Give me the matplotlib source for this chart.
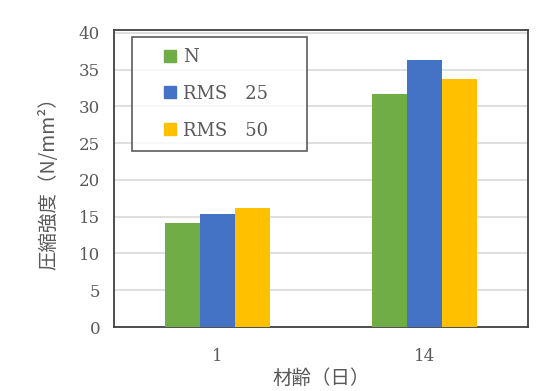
import numpy as np
import matplotlib
matplotlib.use('Agg')
import matplotlib.pyplot as plt
from matplotlib.lines import Line2D

# 材齢ごとの圧縮強度
ages = ['1', '14']
series = ['N', 'RMS\u300025', 'RMS\u300050']
val_n = [14.1, 31.7]
val_rms25 = [15.4, 36.3]
val_rms50 = [16.2, 33.7]
colors = ['#70AD47', '#4472C4', '#FFC000']

jp = ['Noto Sans CJK JP', 'DejaVu Sans']
num = ['DejaVu Serif']

fig = plt.figure(figsize=(5.39, 3.91), dpi=100)
ax = fig.add_axes([114/539, 1-327/391, 414/539, 297/391])

x = np.arange(len(ages))
w = 0.168
for i, (vals, c) in enumerate(zip([val_n, val_rms25, val_rms50], colors)):
    ax.bar(x + (i-1)*w, vals, w, color=c, zorder=3)

ax.set_xlim(-0.5, 1.5)
ax.set_ylim(0, 40.4)
ax.set_yticks(np.arange(0, 41, 5))
ax.set_xticks(x)
ax.set_xticklabels(ages)
ax.grid(axis='y', color='#d9d9d9', linewidth=1.2, zorder=0)
ax.tick_params(length=0, labelsize=12, colors='#595959', pad=10)
ax.tick_params(axis='x', pad=15)
for lab in ax.get_xticklabels() + ax.get_yticklabels():
    lab.set_family(num)
for s in ax.spines.values():
    s.set_color('#404040')
    s.set_linewidth(1.3)

ax.set_ylabel('圧縮強度（N/mm²）', family=jp, fontsize=14, color='#595959', labelpad=14)
ax.set_xlabel('材齢（日）', family=jp, fontsize=14, color='#595959', labelpad=2)

handles = [Line2D([], [], marker='s', linestyle='none', markersize=8,
                  markerfacecolor=c, markeredgecolor=c) for c in colors]
leg = ax.legend(handles, series, loc='upper left', mode='expand',
                bbox_to_anchor=(18/414, 1-7/297, 175/414, 0),
                frameon=True, fancybox=False, borderpad=0.6, labelspacing=1.05,
                handletextpad=-0.75, handlelength=3.0, borderaxespad=0,
                prop={'family': 'DejaVu Serif', 'size': 13})
leg.get_frame().set_edgecolor('#333333')
leg.get_frame().set_linewidth(1.2)
for t in leg.get_texts():
    t.set_color('#595959')
    t.set_family(['DejaVu Serif', 'Noto Sans CJK JP'])

fig.savefig('out.png', dpi=100)
